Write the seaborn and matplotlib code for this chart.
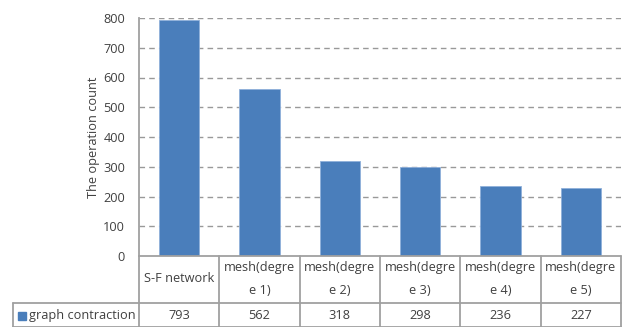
import matplotlib
matplotlib.use("Agg")
import matplotlib.pyplot as plt
import seaborn as sns
import pandas as pd
from matplotlib.lines import Line2D
from matplotlib.patches import Rectangle

categories = ["S-F network", "mesh(degre\ne 1)", "mesh(degre\ne 2)", "mesh(degre\ne 3)",
              "mesh(degre\ne 4)", "mesh(degre\ne 5)"]
series_name = "graph contraction"
values = [793, 562, 318, 298, 236, 227]
y_ticks = [0, 100, 200, 300, 400, 500, 600, 700, 800]
y_label = "The operation count"

BAR = "#4A7EBB"
TXT = "#404040"
LINE = "#A0A0A0"
FS = 9.2

sns.set_style("white")
plt.rcParams["font.family"] = ["Open Sans", "DejaVu Sans"]

W, H = 623, 327
fig = plt.figure(figsize=(W / 100, H / 100), dpi=100)
x0, x1, y_top, y_zero = 139, 621, 18, 256
ax = fig.add_axes([x0 / W, 1 - y_zero / H, (x1 - x0) / W, (y_zero - y_top) / H])

df = pd.DataFrame({"cat": categories, "val": values})
sns.barplot(data=df, x="cat", y="val", color=BAR, saturation=1, width=0.5,
            edgecolor="#8FB0DA", linewidth=0.6, ax=ax, zorder=3)

ax.set_ylim(0, 800)
ax.set_xlim(-0.5, len(categories) - 0.5)
ax.set_yticks(y_ticks)
ax.set_yticklabels([str(t) for t in y_ticks], fontsize=FS, color=TXT)
ax.tick_params(axis="y", length=0, pad=10)
ax.set_xticks([])
ax.set_xlabel("")
ax.set_ylabel(y_label, fontsize=FS, color=TXT, labelpad=2)
for t in y_ticks[1:]:
    ax.axhline(t, color="#999999", lw=1.0, ls=(0, (4, 3)), zorder=1)
for s in ["top", "right", "bottom"]:
    ax.spines[s].set_visible(False)
ax.spines["left"].set_color(LINE)
ax.spines["left"].set_linewidth(1.3)

# Data table under the plot, in pixel coordinates of the figure
def fx(px):
    return px / W

def fy(py):
    return 1 - py / H

def hline(xa, xb, y):
    fig.add_artist(Line2D([fx(xa), fx(xb)], [fy(y), fy(y)], color=LINE, lw=1.3))

def vline(x, ya, yb):
    fig.add_artist(Line2D([fx(x), fx(x)], [fy(ya), fy(yb)], color=LINE, lw=1.3))

row1, row2, bottom, left_col = 256, 303, 326.5, 13
col_w = (x1 - x0) / len(categories)
hline(x0, x1, row1)
hline(left_col, x1, row2)
hline(left_col, x1, bottom)
vline(left_col, row2, bottom)
for i in range(len(categories) + 1):
    vline(x0 + i * col_w, row1, bottom)

for i, (c, v) in enumerate(zip(categories, values)):
    cx = x0 + (i + 0.5) * col_w
    lines = c.split("\n")
    if len(lines) == 1:
        fig.text(fx(cx), fy(279), lines[0], ha="center", va="center", fontsize=FS, color=TXT)
    else:
        fig.text(fx(cx), fy(268), lines[0], ha="center", va="center", fontsize=FS, color=TXT)
        fig.text(fx(cx), fy(291), lines[1], ha="center", va="center", fontsize=FS, color=TXT)
    fig.text(fx(cx), fy(315.5), str(v), ha="center", va="center", fontsize=FS, color=TXT)

fig.add_artist(Rectangle((fx(18), fy(320)), 8 / W, 8 / H, color=BAR, transform=fig.transFigure))
fig.text(fx(29), fy(315.5), series_name, ha="left", va="center", fontsize=FS, color=TXT)

fig.savefig("out.png", dpi=100, facecolor="white")
